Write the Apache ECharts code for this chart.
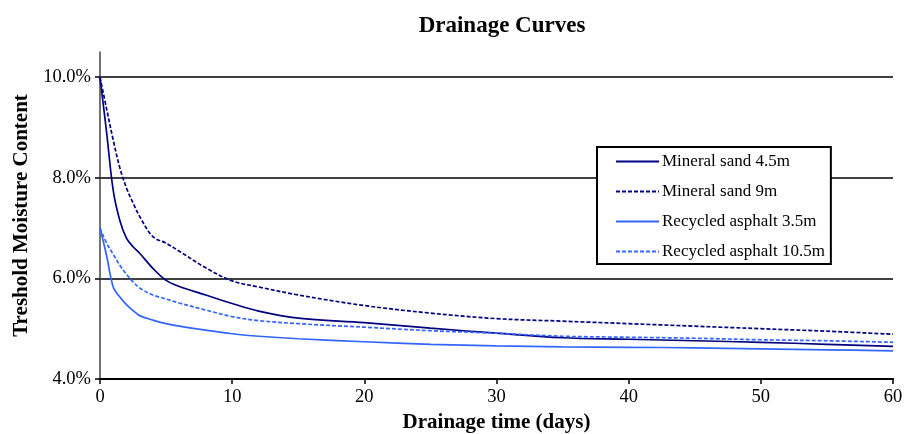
<!DOCTYPE html>
<html>
<head>
<meta charset="utf-8">
<title>Drainage Curves</title>
<script src="https://cdn.jsdelivr.net/npm/echarts@6/dist/echarts.min.js"></script>
<style>
    html, body { margin: 0; padding: 0; background: #fff; }
    #main { width: 913px; height: 434px; }
</style>
</head>
<body>
<div id="main"></div>
<script>
// 数据 时间(天) 和 含水率(%)
var days = [0, 0.5, 1, 1.5, 2, 2.5, 3, 4, 5, 6, 8, 10, 12, 15, 20, 25, 30, 35, 40, 45, 50, 55, 60];
var mineral45 = [10.0, 8.9, 7.75, 7.15, 6.8, 6.63, 6.5, 6.2, 5.96, 5.84, 5.67, 5.5, 5.35, 5.21, 5.12, 5.01, 4.91, 4.82, 4.79, 4.76, 4.73, 4.69, 4.65];
var mineral9 = [10.0, 9.37, 8.75, 8.2, 7.8, 7.5, 7.23, 6.83, 6.7, 6.54, 6.21, 5.95, 5.83, 5.67, 5.46, 5.31, 5.2, 5.15, 5.1, 5.05, 5.0, 4.95, 4.89];
var asphalt35 = [7.0, 6.45, 5.83, 5.63, 5.48, 5.36, 5.26, 5.17, 5.1, 5.05, 4.97, 4.9, 4.85, 4.8, 4.74, 4.69, 4.66, 4.64, 4.63, 4.62, 4.6, 4.58, 4.56];
var asphalt105 = [7.0, 6.7, 6.48, 6.26, 6.08, 5.93, 5.81, 5.67, 5.59, 5.51, 5.37, 5.24, 5.16, 5.1, 5.03, 4.96, 4.91, 4.85, 4.83, 4.81, 4.78, 4.76, 4.73];
var seriesNames = ['Mineral sand 4.5m', 'Mineral sand 9m', 'Recycled asphalt 3.5m', 'Recycled asphalt 10.5m'];
var yTicks = [4, 6, 8, 10];

var font = 'Liberation Serif, Times New Roman, serif';
var navy = '#000080';
var blue = '#3366FF';

function pairs(ys){
    return days.map(function(d, i){ return [d, ys[i]]; });
}

function makeLine(name, ys, color, dashed){
    return {
        name: name,
        type: 'line',
        data: pairs(ys),
        symbol: 'none',
        smooth: 0.35,
        lineStyle: { color: color, width: 1.7, type: dashed ? [4, 2] : 'solid' },
        itemStyle: { color: color }
    };
}

var myChart = echarts.init(document.getElementById('main'));

var option = {
    backgroundColor: '#fff',
    animation: false,
    title: {
        text: 'Drainage Curves',
        left: 497,
        top: 10,
        textAlign: 'center',
        textStyle: { fontFamily: font, fontSize: 23, fontWeight: 'bold', color: '#000' }
    },
    legend: {
        orient: 'vertical',
        left: 597,
        top: 147,
        padding: [6, 6, 4, 18],
        itemWidth: 43,
        itemHeight: 14,
        itemGap: 13,
        borderColor: '#000',
        borderWidth: 2,
        backgroundColor: '#fff',
        data: seriesNames,
        // 图例只要线 不要圆点
        itemStyle: { color: 'rgba(0,0,0,0)', borderWidth: 0 },
        textStyle: { fontFamily: font, fontSize: 17, color: '#000', padding: [0, 0, 0, -2] }
    },
    // 固定绘图区 不让标签挤压
    grid: { left: 100, right: 20, top: 52, bottom: 55, outerBoundsMode: 'none' },
    xAxis: {
        type: 'value',
        min: 0,
        max: 60,
        interval: 10,
        name: 'Drainage time (days)',
        nameLocation: 'middle',
        nameGap: 33,
        nameTextStyle: { fontFamily: font, fontSize: 21, fontWeight: 'bold', color: '#000' },
        axisLine: { show: true, lineStyle: { color: '#000', width: 2 } },
        axisTick: { show: true, length: 5, lineStyle: { color: '#000', width: 1.5 } },
        axisLabel: { margin: 9, fontFamily: font, fontSize: 18.5, color: '#000' },
        splitLine: { show: false }
    },
    yAxis: {
        type: 'value',
        min: 4,
        max: 10.5,
        interval: 2,
        name: 'Treshold Moisture Content',
        nameLocation: 'middle',
        nameGap: 66,
        nameTextStyle: { fontFamily: font, fontSize: 21, fontWeight: 'bold', color: '#000' },
        axisLine: { show: true, lineStyle: { color: '#444', width: 1.5 } },
        axisTick: { show: true, length: 5, lineStyle: { color: '#000', width: 1.5 } },
        axisLabel: {
            margin: 9,
            showMaxLabel: false,
            fontFamily: font,
            fontSize: 18.5,
            color: '#000',
            formatter: function(v){
                return yTicks.indexOf(v) >= 0 ? v.toFixed(1) + '%' : '';
            }
        },
        splitLine: { show: true, showMaxLine: false, lineStyle: { color: '#000', width: 1.5 } }
    },
    series: [
        makeLine(seriesNames[0], mineral45, navy, false),
        makeLine(seriesNames[1], mineral9, navy, true),
        makeLine(seriesNames[2], asphalt35, blue, false),
        makeLine(seriesNames[3], asphalt105, blue, true)
    ]
};
myChart.setOption(option);
</script>
</body>
</html>
